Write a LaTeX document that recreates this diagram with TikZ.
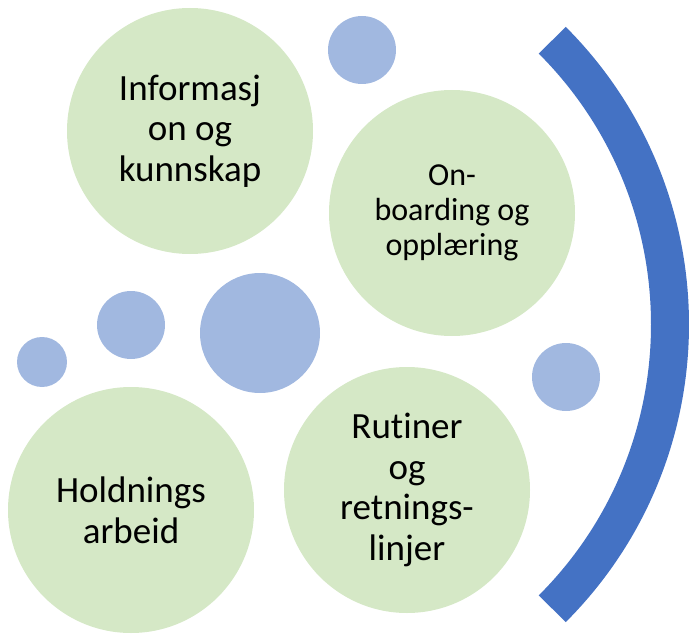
\documentclass[tikz,border=0pt]{standalone}
\usepackage{fontspec}
\setmainfont{Carlito}[Ligatures=NoCommon]
\usepackage{tikz}
\usetikzlibrary{positioning}

\definecolor{leafgreen}{RGB}{213,232,198}
\definecolor{bubbleblue}{RGB}{161,184,224}
\definecolor{arcblue}{RGB}{68,114,196}

\begin{document}
\begin{tikzpicture}[x=1pt, y=-1pt, font=\fontsize{37}{40.6}\selectfont,
  topic/.style={circle, fill=leafgreen, minimum size=246pt, inner sep=0pt, align=center, text=black},
  bubble/.style={circle, fill=bubbleblue, inner sep=0pt}]

 \useasboundingbox (0,0) rectangle (689,634);

 % bubbles
 \foreach \i/\x/\y/\r in { a/362/50/34, b/131/325/34, c/42/362/25, d/260/333/60, e/566/377/34 } {
        \node[bubble, minimum size=\r*2pt] (bub\i) at (\x,\y) {};
 }

 % topics
 \node[topic] (info) at (190,131) {Informasj\\on og\\kunnskap};
 \node[topic, font=\fontsize{32}{35}\selectfont] (onboard) at (452,213) {On-\\boarding og\\opplæring};
 \node[topic] (attitude) at (131,510) {Holdnings\\arbeid};
 \node[topic] (routines) at (407,490) {Rutiner\\og\\retnings-\\linjer};

 % bracket
 \draw[arcblue, line width=38pt] (268,324.5) ++(-45:402) arc[start angle=-45, end angle=45, radius=402];

\end{tikzpicture}
\end{document}
